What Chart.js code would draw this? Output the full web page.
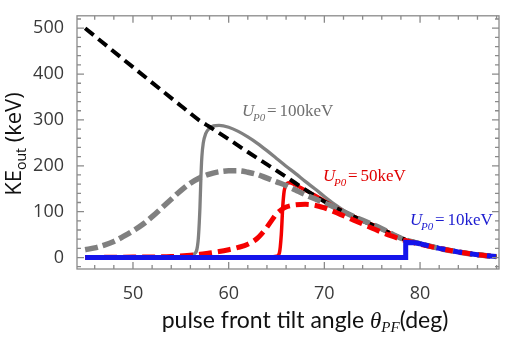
<!DOCTYPE html>
<html>
<head>
<meta charset="utf-8">
<script src="https://cdn.jsdelivr.net/npm/chart.js@4.4.1/dist/chart.umd.min.js"></script>
<style>
  body { margin: 0; background: #fff; }
  canvas { display: block; }
</style>
</head>
<body>
<canvas id="myChart" width="510" height="340"></canvas>
<script>
// tick labels
const xTicks = [50, 60, 70, 80];
const yTicks = [0, 100, 200, 300, 400, 500];

// black dashed envelope
const blackX = [45, 50, 55, 57, 58, 60, 62, 64, 66, 68, 70, 72, 74, 76, 78, 80, 82, 84, 86, 88];
const blackY = [500, 415, 331, 298, 285, 258, 230, 203, 176, 148, 122, 100, 80, 62, 43, 31, 21, 13, 7, 2];

// U_P0 = 100 keV
const gSolidX = [45, 54, 55.5, 56.4, 56.8, 57.0, 57.1, 57.2, 57.35, 57.6, 57.95, 58.4, 59.0, 60, 61, 62, 63, 64, 65, 66, 67, 68, 69, 70, 71, 72, 73, 74, 76, 78, 80, 82, 84, 86, 88];
const gSolidY = [0, 1, 3, 8, 35, 110, 175, 220, 250, 270, 281, 287, 288, 284, 275, 263, 249, 233, 216, 199, 183, 166, 150, 133, 117, 103, 91, 81, 63, 42, 30, 20, 12, 6, 2];
const gDashX = [45, 46, 47, 48, 49, 50, 51, 52, 53, 54, 55, 56, 57, 58, 59, 60, 61, 62, 63, 64, 65, 66, 67, 68, 69, 70, 71, 72, 73, 74, 76, 78, 80, 82, 84, 86, 88];
const gDashY = [17, 21, 27, 35, 46, 58, 72, 89, 108, 127, 146, 162, 174, 182, 187, 189, 189, 186, 181, 173, 165, 157, 147, 137, 128, 119, 110, 100, 90, 81, 63, 42, 30, 20, 12, 6, 2];

// U_P0 = 50 keV
const rSolidX = [45, 64, 65, 65.3, 65.5, 65.65, 65.8, 66, 66.3, 67, 68, 69, 70, 71, 72, 73, 74, 76, 78, 80, 82, 84, 86, 88];
const rSolidY = [0, 1, 3, 10, 50, 110, 145, 158, 163, 158, 147, 136, 124, 112, 101, 91, 81, 63, 42, 30, 20, 12, 6, 2];
const rDashX = [45, 50, 54, 56, 57, 58, 59, 60, 61, 62, 63, 63.5, 64, 64.5, 65, 65.5, 66, 66.5, 67, 68, 69, 70, 71, 72, 73, 74, 75, 76, 77, 78, 79, 80, 82, 84, 86, 88];
const rDashY = [0, 1, 2, 5, 7, 10, 13, 17, 22, 29, 42, 53, 66, 81, 95, 104, 110, 113, 115, 116, 114, 108, 100, 91, 82, 73, 64, 55, 47, 40, 34, 29, 20, 12, 6, 2];

// U_P0 = 10 keV
const bSolidX = [45, 78.5, 78.5, 79.5, 80];
const bSolidY = [0, 0, 33, 32, 30];
const bDashX = [80, 82, 84, 86, 88];
const bDashY = [30, 20, 12, 6, 2];

// curve labels
const labelText = ['100keV', '50keV', '10keV'];
const labelX = [61.4, 69.85, 78.95];
const labelY = [309, 166, 71];
const labelColor = ['#6e6e6e', '#e00000', '#1c1cd0'];

function pts(xs, ys) {
    return xs.map((x, i) => ({x: x, y: ys[i]}));
}

const frame = {
    id: 'frame',
    afterDatasetsDraw(chart) {
        const ctx = chart.ctx, a = chart.chartArea;
        const sx = chart.scales.x, sy = chart.scales.y;
        ctx.save();
        ctx.strokeStyle = '#8a8a8a';
        ctx.lineWidth = 1.3;
        ctx.strokeRect(a.left, a.top, a.right - a.left, a.bottom - a.top);
        ctx.beginPath();
        for (let v = 46; v <= 88; v += 2) {
            const p = sx.getPixelForValue(v);
            const len = v % 10 === 0 ? 7 : 4;
            ctx.moveTo(p, a.bottom); ctx.lineTo(p, a.bottom - len);
            ctx.moveTo(p, a.top); ctx.lineTo(p, a.top + len);
        }
        for (let v = -20; v <= 520; v += 20) {
            const p = sy.getPixelForValue(v);
            const len = v % 100 === 0 ? 7 : 4;
            ctx.moveTo(a.left, p); ctx.lineTo(a.left + len, p);
            ctx.moveTo(a.right, p); ctx.lineTo(a.right - len, p);
        }
        ctx.stroke();

        // curve labels
        ctx.textBaseline = 'alphabetic';
        ctx.textAlign = 'left';
        for (let i = 0; i < labelText.length; i++) {
            const px = sx.getPixelForValue(labelX[i]);
            const py = sy.getPixelForValue(labelY[i]);
            ctx.fillStyle = labelColor[i];
            ctx.font = 'italic 17px "Liberation Serif"';
            ctx.fillText('U', px, py);
            ctx.font = 'italic 11px "Liberation Serif"';
            ctx.fillText('P0', px + 11, py + 5);
            ctx.font = '17px "Liberation Serif"';
            ctx.fillText('=', px + 25, py);
            ctx.fillText(labelText[i], px + 37.5, py);
        }

        // x title
        ctx.fillStyle = '#111';
        const parts = [
            ['pulse front tilt angle ', '23px Lato', 0],
            ['\u03B8', 'italic 23px "Liberation Serif"', 0],
            ['PF', 'italic 15px "Liberation Serif"', 4],
            ['(deg)', '23px Lato', 0]
        ];
        let total = 0;
        parts.forEach(p => { ctx.font = p[1]; total += ctx.measureText(p[0]).width; });
        let x0 = 305 - total / 2;
        parts.forEach(p => {
            ctx.font = p[1];
            ctx.fillText(p[0], x0, 328 + p[2]);
            x0 += ctx.measureText(p[0]).width;
        });

        // y title
        ctx.translate(21, 144);
        ctx.rotate(-Math.PI / 2);
        const yparts = [
            ['KE', '22px "Open Sans"', 0],
            ['out', '14px "Open Sans"', 5],
            [' (keV)', '22px "Open Sans"', 0]
        ];
        total = 0;
        yparts.forEach(p => { ctx.font = p[1]; total += ctx.measureText(p[0]).width; });
        x0 = -total / 2;
        yparts.forEach(p => {
            ctx.font = p[1];
            ctx.fillText(p[0], x0, p[2]);
            x0 += ctx.measureText(p[0]).width;
        });
        ctx.restore();
    }
};

const ctx = document.getElementById('myChart').getContext('2d');
const myChart = new Chart(ctx, {
    type: 'scatter',
    data: {
        datasets: [
            {
                label: 'U10 dashed',
                data: pts(bDashX, bDashY),
                borderColor: 'rgb(20,20,235)',
                borderWidth: 5,
                borderDash: [9, 8],
                tension: 0
            },
            {
                label: 'U10',
                data: pts(bSolidX, bSolidY),
                borderColor: 'rgb(20,20,235)',
                borderWidth: 5,
                tension: 0
            },
            {
                label: 'U50 dashed',
                data: pts(rDashX, rDashY),
                borderColor: 'rgb(245,0,0)',
                borderWidth: 5,
                borderDash: [13, 6],
                cubicInterpolationMode: 'monotone'
            },
            {
                label: 'U100 dashed',
                data: pts(gDashX, gDashY),
                borderColor: 'rgb(128,128,128)',
                borderWidth: 5.5,
                borderDash: [13, 5],
                cubicInterpolationMode: 'monotone'
            },
            {
                label: 'max',
                data: pts(blackX, blackY),
                borderColor: '#000',
                borderWidth: 4,
                borderDash: [11, 6],
                cubicInterpolationMode: 'monotone'
            },
            {
                label: 'U50',
                data: pts(rSolidX, rSolidY),
                borderColor: 'rgb(245,0,0)',
                borderWidth: 3.5,
                cubicInterpolationMode: 'monotone'
            },
            {
                label: 'U100',
                data: pts(gSolidX, gSolidY),
                borderColor: 'rgb(128,128,128)',
                borderWidth: 3.3,
                cubicInterpolationMode: 'monotone'
            }
        ]
    },
    options: {
        responsive: false,
        animation: false,
        showLine: true,
        elements: { point: { radius: 0, hoverRadius: 0 } },
        layout: { padding: { left: 0, right: 11, top: 6, bottom: 0 } },
        plugins: {
            legend: { display: false },
            tooltip: { enabled: false }
        },
        scales: {
            x: {
                type: 'linear',
                min: 44.15,
                max: 88.25,
                grid: { display: false },
                border: { display: false },
                afterBuildTicks: s => { s.ticks = xTicks.map(v => ({value: v})); },
                afterFit: s => { s.height = 71; },
                ticks: {
                    color: '#3a3a3a',
                    padding: 6,
                    maxRotation: 0,
                    font: { family: '"Open Sans"', size: 18 }
                }
            },
            y: {
                type: 'linear',
                min: -25,
                max: 527,
                grid: { display: false },
                border: { display: false },
                afterBuildTicks: s => { s.ticks = yTicks.map(v => ({value: v})); },
                afterFit: s => { s.width = 77; },
                ticks: {
                    color: '#3a3a3a',
                    padding: 5,
                    font: { family: '"Open Sans"', size: 18 }
                }
            }
        }
    },
    plugins: [frame]
});
</script>
</body>
</html>
